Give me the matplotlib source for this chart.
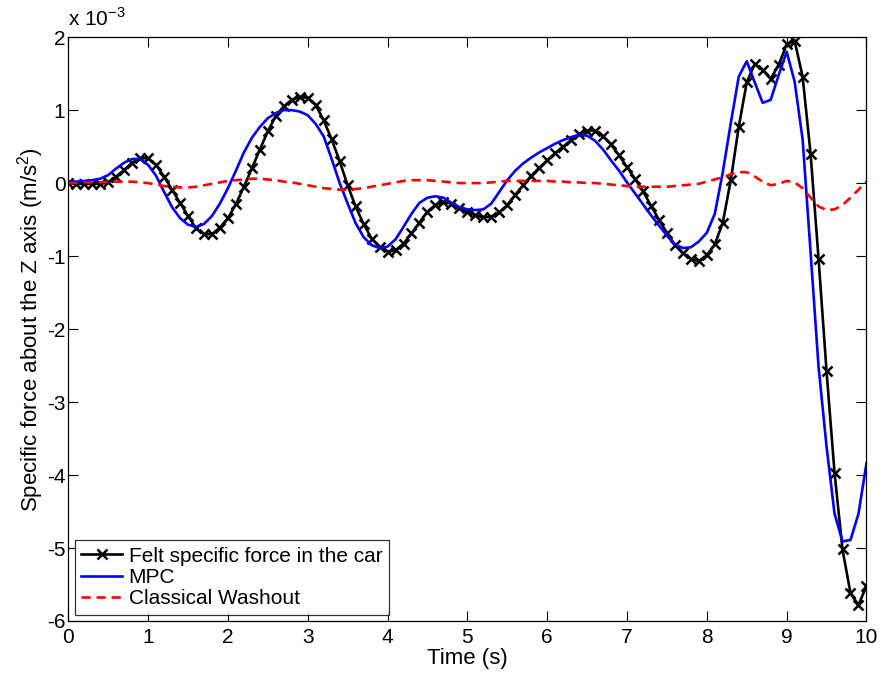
import numpy as np
import matplotlib
matplotlib.use("Agg")
import matplotlib.pyplot as plt

plt.rcParams['font.family'] = ['Liberation Sans', 'DejaVu Sans']
plt.rcParams['mathtext.fontset'] = 'custom'
plt.rcParams['mathtext.rm'] = 'Liberation Sans'
plt.rcParams['axes.unicode_minus'] = False

# ---------------- Data (values in units of 1e-3 m/s^2) ----------------
t = np.round(np.arange(0, 101) * 0.1, 1)

felt = [
    0.00, -0.01, -0.01, -0.01, -0.01, 0.01, 0.09, 0.18, 0.28, 0.34,
    0.34, 0.25, 0.09, -0.09, -0.27, -0.45, -0.62, -0.70, -0.70, -0.61,
    -0.48, -0.29, -0.05, 0.20, 0.46, 0.71, 0.92, 1.05, 1.14, 1.18,
    1.17, 1.07, 0.86, 0.60, 0.30, -0.03, -0.32, -0.56, -0.76, -0.87,
    -0.94, -0.92, -0.83, -0.69, -0.54, -0.39, -0.30, -0.26, -0.28, -0.34,
    -0.40, -0.44, -0.47, -0.46, -0.40, -0.30, -0.16, -0.03, 0.10, 0.21,
    0.31, 0.41, 0.50, 0.59, 0.67, 0.72, 0.72, 0.64, 0.53, 0.38,
    0.22, 0.06, -0.11, -0.31, -0.50, -0.68, -0.85, -0.96, -1.04, -1.07,
    -0.99, -0.84, -0.54, 0.04, 0.77, 1.38, 1.63, 1.55, 1.43, 1.62,
    1.90, 1.95, 1.46, 0.40, -1.04, -2.58, -3.97, -5.02, -5.62, -5.78,
    -5.52,
]

mpc = [
    0.02, 0.02, 0.03, 0.04, 0.06, 0.11, 0.20, 0.28, 0.33, 0.33,
    0.25, 0.10, -0.12, -0.33, -0.48, -0.57, -0.60, -0.56, -0.45, -0.28,
    -0.07, 0.17, 0.42, 0.62, 0.77, 0.89, 0.96, 1.00, 1.00, 0.98,
    0.93, 0.81, 0.64, 0.33, 0.00, -0.28, -0.55, -0.74, -0.85, -0.89,
    -0.87, -0.77, -0.60, -0.42, -0.27, -0.20, -0.18, -0.20, -0.27, -0.33,
    -0.36, -0.37, -0.36, -0.28, -0.12, 0.04, 0.17, 0.27, 0.35, 0.42,
    0.48, 0.54, 0.59, 0.63, 0.66, 0.65, 0.58, 0.46, 0.31, 0.17,
    0.01, -0.14, -0.29, -0.44, -0.58, -0.72, -0.84, -0.89, -0.88, -0.80,
    -0.68, -0.42, 0.15, 0.82, 1.46, 1.67, 1.38, 1.10, 1.14, 1.48,
    1.80, 1.39, 0.60, -0.95, -2.52, -3.61, -4.53, -4.91, -4.89, -4.53,
    -3.84,
]

washout = [
    0.00, 0.00, 0.01, 0.01, 0.01, 0.02, 0.02, 0.02, 0.02, 0.01,
    0.00, -0.02, -0.04, -0.05, -0.06, -0.06, -0.05, -0.03, -0.01, 0.01,
    0.03, 0.04, 0.05, 0.06, 0.06, 0.05, 0.04, 0.02, 0.01, -0.01,
    -0.03, -0.05, -0.07, -0.08, -0.09, -0.09, -0.08, -0.07, -0.05, -0.03,
    -0.01, 0.01, 0.03, 0.04, 0.04, 0.04, 0.03, 0.02, 0.01, 0.00,
    0.00, 0.00, 0.00, 0.01, 0.02, 0.03, 0.03, 0.03, 0.03, 0.03,
    0.03, 0.02, 0.02, 0.01, 0.01, 0.00, 0.00, -0.01, -0.02, -0.03,
    -0.04, -0.05, -0.05, -0.05, -0.05, -0.05, -0.04, -0.03, -0.02, -0.01,
    0.02, 0.05, 0.08, 0.12, 0.15, 0.15, 0.09, 0.02, -0.03, -0.01,
    0.03, 0.01, -0.07, -0.20, -0.32, -0.37, -0.36, -0.30, -0.20, -0.09,
    0.02,
]

labels = ["Felt specific force in the car", "MPC", "Classical Washout"]
x_ticks = list(range(0, 11))
y_ticks = list(range(-6, 3))

FS = 15

# ---------------- Plot ----------------
fig = plt.figure(figsize=(8.81, 6.75), dpi=100)
ax = fig.add_axes([0.0775, 0.08, 0.906, 0.865])

ax.plot(t, felt, color='black', lw=1.9, marker='x', ms=6.5, mew=1.8,
        label=labels[0])
ax.plot(t, mpc, color='#0000ff', lw=1.9, label=labels[1])
ax.plot(t, washout, color='#ff0000', lw=1.9, ls=(0, (3.5, 2.2)),
        label=labels[2])

ax.set_xlim(0, 10)
ax.set_ylim(-6, 2)
ax.set_xticks(x_ticks)
ax.set_yticks(y_ticks)
ax.tick_params(direction='in', length=7, width=0.8, top=True, right=True,
               labelsize=FS)
ax.tick_params(axis='x', pad=5)
ax.tick_params(axis='y', pad=2)
for sp in ax.spines.values():
    sp.set_linewidth(0.9)

ax.set_xlabel("Time (s)", fontsize=FS + 1, labelpad=1)
ax.set_ylabel("Specific force about the Z axis (m/s$^2$)", fontsize=FS + 1,
              labelpad=1)
ax.text(0.0, 1.012, "x 10$^{-3}$", transform=ax.transAxes, fontsize=FS,
        ha='left', va='bottom')

leg = ax.legend(loc='lower left', fontsize=FS, frameon=True, fancybox=False,
                edgecolor='black', handlelength=2.0, handletextpad=0.3,
                borderpad=0.3, labelspacing=0.12, borderaxespad=0.3)
leg.get_frame().set_linewidth(0.9)

fig.savefig("out.png", dpi=100)
